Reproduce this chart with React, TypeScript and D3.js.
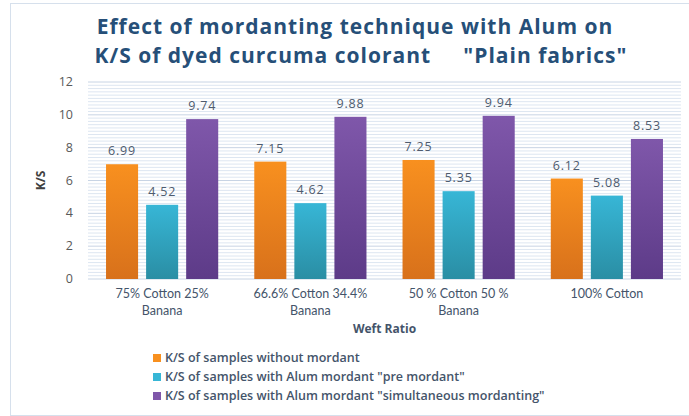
import React from "react";
import * as d3 from "d3";

const categories = [
  ["75% Cotton 25%", "Banana"],
  ["66.6% Cotton 34.4%", "Banana"],
  ["50 % Cotton 50 %", "Banana"],
  ["100% Cotton"],
];
const seriesNames = [
  "K/S of samples without mordant",
  'K/S of samples with Alum mordant "pre mordant"',
  'K/S of samples with Alum mordant "simultaneous mordanting"',
];
const withoutMordant = [6.99, 7.15, 7.25, 6.12];
const preMordant = [4.52, 4.62, 5.35, 5.08];
const simultaneous = [9.74, 9.88, 9.94, 8.53];
const yTicks = [0, 2, 4, 6, 8, 10, 12];

// top / bottom gradient stops per series
const colors = [
  ["#f8901f", "#d8711b"],
  ["#37b6d6", "#2a8ea4"],
  ["#7f57aa", "#5d3b88"],
];

const W = 689;
const H = 416;
const m = { left: 88, right: 8, top: 82, bottom: 137 };
const font = "Lato, 'Open Sans', sans-serif";
const wide = "'Open Sans', sans-serif";

export default function App() {
  const series = [withoutMordant, preMordant, simultaneous];
  const x = d3
    .scaleBand<number>()
    .domain(d3.range(categories.length))
    .range([m.left, W - m.right]);
  const inner = d3
    .scaleBand<number>()
    .domain(d3.range(series.length))
    .range([0, x.bandwidth()])
    .paddingInner(0.2)
    .paddingOuter(0.45);
  const y = d3.scaleLinear().domain([0, 12]).range([H - m.bottom, m.top]);
  const minor = d3.range(0, 12.01, 0.2);

  return (
    <svg
      width={W}
      height={H}
      style={{ position: "absolute", left: 0, top: 0, background: "#fff" }}
      fontFamily={font}
    >
      <defs>
        {colors.map((c, i) => (
          <linearGradient key={i} id={"g" + i} x1="0" y1="0" x2="0" y2="1">
            <stop offset="0" stopColor={c[0]} />
            <stop offset="1" stopColor={c[1]} />
          </linearGradient>
        ))}
      </defs>
      <rect x={10.5} y={3.5} width={W + 10} height={H - 4} fill="none" stroke="#d6e0ec" />

      <text x={355} y={34} textAnchor="middle" fontSize={21} letterSpacing={1} fontWeight="bold" fill="#264f78" fontFamily={wide}>
        Effect of mordanting technique with Alum on
      </text>
      <text x={361} y={63} textAnchor="middle" fontSize={21} letterSpacing={1} fontWeight="bold" fill="#264f78" fontFamily={wide} xmlSpace="preserve">
        {'K/S of dyed curcuma colorant     "Plain fabrics"'}
      </text>

      {minor.map((v, i) => (
        <line
          key={i}
          x1={m.left}
          x2={W - m.right}
          y1={y(v)}
          y2={y(v)}
          stroke={Math.abs(v - Math.round(v / 2) * 2) < 0.01 ? "#c8d4e4" : "#dde6f1"}
          strokeWidth={1}
        />
      ))}

      {yTicks.map((t) => (
        <text key={t} x={73} y={y(t) + 4} textAnchor="end" fontSize={12.5} fill="#595959" fontFamily={wide}>
          {t}
        </text>
      ))}
      <text
        transform={`translate(45,${y(6)}) rotate(-90)`}
        textAnchor="middle"
        fontSize={12}
        fontWeight="bold"
        fill="#404040"
        fontFamily={wide}
      >
        K/S
      </text>

      {categories.map((lines, ci) => (
        <g key={ci}>
          {series.map((vals, si) => {
            const bx = x(ci)! + inner(si)!;
            return (
              <g key={si}>
                <rect
                  x={bx}
                  y={y(vals[ci])}
                  width={inner.bandwidth()}
                  height={y(0) - y(vals[ci])}
                  fill={`url(#g${si})`}
                />
                <text
                  x={bx + inner.bandwidth() / 2}
                  y={y(vals[ci]) - 9}
                  textAnchor="middle"
                  fontSize={12.5}
                  letterSpacing={0.8}
                  fill="#4e5b6e"
                  fontFamily={wide}
                >
                  {vals[ci].toFixed(2)}
                </text>
              </g>
            );
          })}
          {lines.map((l, li) => (
            <text
              key={li}
              x={x(ci)! + x.bandwidth() / 2}
              y={298 + li * 17}
              textAnchor="middle"
              fontSize={12.5}
              fill="#44546a"
            >
              {l}
            </text>
          ))}
        </g>
      ))}

      <text x={(m.left + W - m.right) / 2} y={333} textAnchor="middle" fontSize={12} fontWeight="bold" fill="#44546a" fontFamily={wide}>
        Weft Ratio
      </text>

      {seriesNames.map((s, i) => (
        <g key={i} transform={`translate(153,${362 + i * 19})`}>
          <rect x={0} y={-8} width={8} height={8} fill={colors[i][0]} />
          <text x={12} y={0} fontSize={12.5} fontWeight={600} fill="#44546a" fontFamily={wide}>
            {s}
          </text>
        </g>
      ))}
    </svg>
  );
}
